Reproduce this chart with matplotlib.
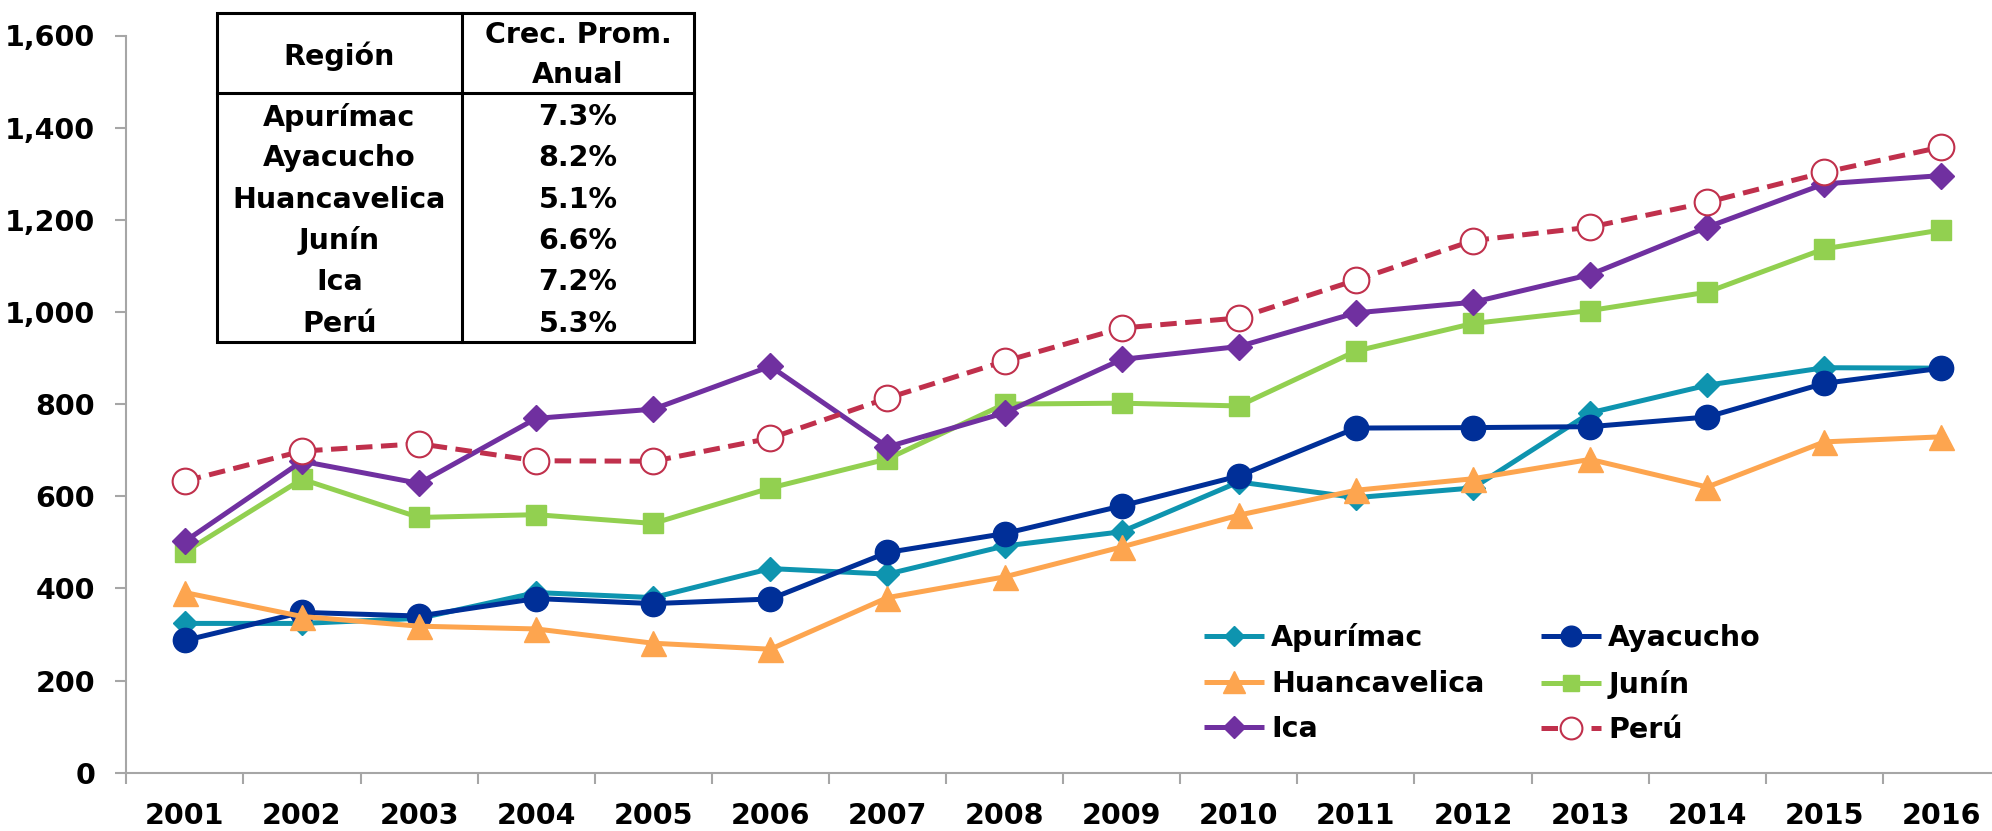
import matplotlib
matplotlib.use("Agg")
import matplotlib.pyplot as plt
from matplotlib.lines import Line2D
from matplotlib.ticker import FuncFormatter, FixedLocator

# ---------------- data ----------------
years = ["2001", "2002", "2003", "2004", "2005", "2006", "2007", "2008",
         "2009", "2010", "2011", "2012", "2013", "2014", "2015", "2016"]
apurimac = [324, 324, 335, 391, 380, 443, 431, 492, 523, 631, 597, 618, 781, 841, 879, 878]
ayacucho = [287, 348, 340, 378, 367, 377, 478, 519, 579, 644, 748, 749, 751, 772, 845, 878]
huancavelica = [391, 339, 318, 312, 281, 268, 380, 425, 490, 559, 613, 638, 680, 620, 718, 729]
junin = [479, 637, 554, 560, 541, 618, 681, 800, 802, 796, 915, 975, 1003, 1043, 1137, 1178]
ica = [502, 676, 628, 769, 789, 882, 707, 781, 897, 925, 998, 1021, 1081, 1184, 1278, 1296]
peru = [633, 698, 714, 677, 676, 726, 813, 893, 965, 987, 1069, 1155, 1184, 1238, 1303, 1358]

table_regions = ["Apurímac", "Ayacucho", "Huancavelica", "Junín", "Ica", "Perú"]
table_rates = ["7.3%", "8.2%", "5.1%", "6.6%", "7.2%", "5.3%"]
table_header = ["Región", "Crec. Prom.\nAnual"]
yticks = [0, 200, 400, 600, 800, 1000, 1200, 1400, 1600]

# ---------------- style ----------------
plt.rcParams['font.family'] = ['DejaVu Sans']
plt.rcParams['font.weight'] = 'bold'
FS = 20.5

W, H = 1992, 831
fig = plt.figure(figsize=(W / 100, H / 100), dpi=100)

def fx(px):
    return px / W

def fy(py):
    return 1 - py / H

ax_left, ax_right, ax_top, ax_bottom = 126.3, 2000.0, 35.5, 772.7
ax = fig.add_axes([fx(ax_left), fy(ax_bottom), fx(ax_right - ax_left), (ax_bottom - ax_top) / H])

x = list(range(len(years)))
series = [
    ("Apurímac", apurimac, dict(color="#0E94AF", marker="D", ms=12, lw=3.6)),
    ("Ayacucho", ayacucho, dict(color="#002F98", marker="o", ms=17.5, lw=3.6)),
    ("Huancavelica", huancavelica, dict(color="#FDA54F", marker="^", ms=18, lw=3.6)),
    ("Junín", junin, dict(color="#92D050", marker="s", ms=14, lw=3.6)),
    ("Ica", ica, dict(color="#7030A0", marker="D", ms=13.5, lw=3.6)),
    ("Perú", peru, dict(color="#C0304C", marker="o", ms=18.5, lw=3.6, ls=(0, (3.3, 1.7)),
                        mfc="white", mec="#C0304C", mew=1.5)),
]
handles = {}
for name, vals, kw in series:
    kw = dict(kw)
    if "mfc" not in kw:
        kw["mfc"] = kw["color"]
        kw["mec"] = kw["color"]
    ln, = ax.plot(x, vals, label=name, solid_capstyle="butt", dash_capstyle="butt",
                  clip_on=False, **kw)
    handles[name] = ln

ax.set_xlim(-0.5, len(years) - 0.5)
ax.set_ylim(0, 1600)

for s in ["top", "right"]:
    ax.spines[s].set_visible(False)
for s in ["left", "bottom"]:
    ax.spines[s].set_color("#A6A6A6")
    ax.spines[s].set_linewidth(1.5)

ax.yaxis.set_major_locator(FixedLocator(yticks))
ax.yaxis.set_major_formatter(FuncFormatter(lambda v, p: f"{int(v):,}"))
ax.tick_params(axis="y", length=8, width=1.5, color="#A6A6A6", pad=14.5, labelsize=FS)

ax.set_xticks([i - 0.5 for i in range(len(years) + 1)])
ax.set_xticklabels([])
ax.set_xticks(x, minor=True)
ax.set_xticklabels(years, minor=True, fontsize=FS)
ax.tick_params(axis="x", which="major", length=8, width=1.5, color="#A6A6A6", direction="out")
ax.tick_params(axis="x", which="minor", length=0, pad=21, labelsize=FS)

# ---------------- legend ----------------
order = ["Apurímac", "Huancavelica", "Ica", "Ayacucho", "Junín", "Perú"]
leg = fig.legend([handles[n] for n in order], order, ncol=2, loc="upper left",
                 bbox_to_anchor=(fx(1204), fy(623)), bbox_transform=fig.transFigure,
                 frameon=False, borderpad=0, borderaxespad=0, fontsize=FS,
                 handlelength=2.1, handletextpad=0.25, columnspacing=2.0,
                 labelspacing=0.62, markerscale=0.85)

# ---------------- table ----------------
tl, tm, tr = 216.5, 462.0, 694.0
tt, th, tb = 13.3, 92.7, 341.7
tlw = 2.2
def hline(y, x0, x1):
    fig.add_artist(Line2D([fx(x0), fx(x1)], [fy(y), fy(y)], color="black", lw=tlw,
                          transform=fig.transFigure, zorder=6))
def vline(xp, y0, y1):
    fig.add_artist(Line2D([fx(xp), fx(xp)], [fy(y0), fy(y1)], color="black", lw=tlw,
                          transform=fig.transFigure, zorder=6))
rect = plt.Rectangle((fx(tl), fy(tb)), fx(tr - tl), (tb - tt) / H,
                     transform=fig.transFigure, facecolor="white",
                     edgecolor="black", lw=tlw, zorder=5)
fig.add_artist(rect)
hline(th, tl, tr)
vline(tm, tt, tb)

cx_left = (tl + tm) / 2
cx_right = (tm + tr) / 2
fig.text(fx(cx_left), fy(56.7), table_header[0], ha="center", va="center", fontsize=FS, zorder=7)
hdr = table_header[1].split("\n")
fig.text(fx(cx_right), fy(35), hdr[0], ha="center", va="center", fontsize=FS, zorder=7)
fig.text(fx(cx_right), fy(75), hdr[1], ha="center", va="center", fontsize=FS, zorder=7)
row_y0, row_dy = 117.0, 41.3
for i, (r, v) in enumerate(zip(table_regions, table_rates)):
    yy = row_y0 + i * row_dy
    fig.text(fx(cx_left), fy(yy), r, ha="center", va="center", fontsize=FS, zorder=7)
    fig.text(fx(cx_right), fy(yy), v, ha="center", va="center", fontsize=FS, zorder=7)

fig.savefig("out.png", dpi=100, facecolor="white")
